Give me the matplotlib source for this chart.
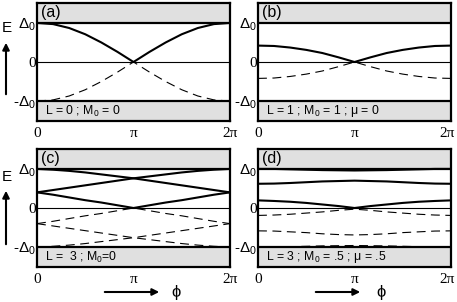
import numpy as np
import matplotlib
matplotlib.use("Agg")
import matplotlib.pyplot as plt

plt.rcParams['font.family'] = ['Liberation Sans', 'DejaVu Sans']
plt.rcParams['mathtext.fontset'] = 'custom'
plt.rcParams['mathtext.rm'] = 'Liberation Sans'
plt.rcParams['mathtext.it'] = 'Liberation Sans:italic'

# ---------------- data ----------------
phi_steps = 13  # samples at phi = k*pi/6, k = 0..12
x_tick_labels = ["0", "π", "2π"]
y_tick_labels = ["-Δ$_0$", "0", "Δ$_0$"]
panel_tags = ["(a)", "(b)", "(c)", "(d)"]
panel_info = ["L = 0 ; M$_0$ = 0",
              "L = 1 ; M$_0$ = 1 ; μ = 0",
              "L =  3 ; M$_0$=0",
              "L = 3 ; M$_0$ = .5 ; μ = .5"]

# (a)
a_solid = [[1.00, 0.97, 0.87, 0.71, 0.50, 0.26, 0.00, 0.26, 0.50, 0.71, 0.87, 0.97, 1.00]]
a_dash = [[-1.00, -0.97, -0.87, -0.71, -0.50, -0.26, 0.00, -0.26, -0.50, -0.71, -0.87, -0.97, -1.00]]
# (b)
b_solid = [[0.42, 0.41, 0.37, 0.31, 0.23, 0.12, 0.00, 0.12, 0.23, 0.31, 0.37, 0.41, 0.42]]
b_dash = [[-0.42, -0.41, -0.37, -0.31, -0.23, -0.12, 0.00, -0.12, -0.23, -0.31, -0.37, -0.41, -0.42]]
# (c)
c_solid = [
    [1.00, 0.98, 0.95, 0.91, 0.86, 0.81, 0.76, 0.70, 0.64, 0.58, 0.52, 0.46, 0.40],
    [0.40, 0.46, 0.52, 0.58, 0.64, 0.70, 0.76, 0.81, 0.86, 0.91, 0.95, 0.98, 1.00],
    [0.40, 0.34, 0.27, 0.20, 0.14, 0.07, 0.00, 0.07, 0.14, 0.20, 0.27, 0.34, 0.40],
]
c_dash = [
    [-1.00, -0.98, -0.95, -0.91, -0.86, -0.81, -0.76, -0.70, -0.64, -0.58, -0.52, -0.46, -0.40],
    [-0.40, -0.46, -0.52, -0.58, -0.64, -0.70, -0.76, -0.81, -0.86, -0.91, -0.95, -0.98, -1.00],
    [-0.40, -0.34, -0.27, -0.20, -0.14, -0.07, 0.00, -0.07, -0.14, -0.20, -0.27, -0.34, -0.40],
]
# (d)
d_solid = [
    [1.00, 1.00, 0.99, 0.98, 0.97, 0.965, 0.96, 0.965, 0.97, 0.98, 0.99, 1.00, 1.00],
    [0.62, 0.625, 0.64, 0.66, 0.68, 0.69, 0.70, 0.69, 0.68, 0.66, 0.64, 0.625, 0.62],
    [0.195, 0.18, 0.16, 0.13, 0.09, 0.05, 0.00, 0.05, 0.09, 0.13, 0.16, 0.18, 0.195],
]
d_dash = [
    [-0.19, -0.18, -0.16, -0.13, -0.10, -0.06, -0.03, -0.06, -0.10, -0.13, -0.16, -0.18, -0.19],
    [-0.585, -0.59, -0.61, -0.63, -0.66, -0.68, -0.69, -0.68, -0.66, -0.63, -0.61, -0.59, -0.585],
    [-1.00, -1.00, -0.99, -0.98, -0.97, -0.965, -0.96, -0.965, -0.97, -0.98, -0.99, -1.00, -1.00],
]

panels = [(a_solid, a_dash), (b_solid, b_dash), (c_solid, c_dash), (d_solid, d_dash)]

# ---------------- figure ----------------
W, H = 457, 302
fig = plt.figure(figsize=(W / 100, H / 100), dpi=100)

def fx(px):
    return px / W

def fy(py):
    return 1 - py / H

boxes = [(37, 3), (258, 3), (37, 149), (258, 149)]
bw, bh = 193, 118
phi = np.linspace(0, 2 * np.pi, phi_steps)
gray = '#e0e0e0'
xticks = [0, np.pi, 2 * np.pi]

for i, ((left, top), (sol, das)) in enumerate(zip(boxes, panels)):
    ax = fig.add_axes([fx(left), fy(top + bh), fx(bw), bh / H])
    ax.set_xlim(0, 2 * np.pi)
    ax.set_ylim(-1.51, 1.51)
    ax.axhspan(1, 2, color=gray, lw=0, zorder=0)
    ax.axhspan(-2, -1, color=gray, lw=0, zorder=0)
    ax.axhline(0, color='k', lw=0.8, zorder=1)
    for s in sol:
        ax.plot(phi, s, color='k', lw=1.5, solid_capstyle='butt', zorder=2)
    for d in das:
        ax.plot(phi, d, color='k', lw=0.8, dashes=(8, 5), zorder=2)
    ax.axhline(1, color='k', lw=1.6, zorder=3)
    ax.axhline(-1, color='k', lw=1.6, zorder=3)
    for sp in ax.spines.values():
        sp.set_linewidth(1.6)
        sp.set_zorder(4)
    right_col = i in (1, 3)
    ax.set_xticks(xticks)
    labels = list(x_tick_labels)
    if right_col:
        labels[2] = ''
        ax.annotate(x_tick_labels[2], xy=(xticks[2], 0),
                    xycoords=('data', 'axes fraction'),
                    xytext=(-3, -4), textcoords='offset points',
                    ha='center', va='top', family='Liberation Serif',
                    fontsize=11, annotation_clip=False)
    ax.set_xticklabels(labels, family='Liberation Serif', fontsize=11)
    ax.set_yticks([-1, 0, 1])
    labs = ax.set_yticklabels(y_tick_labels, fontsize=11)
    labs[1].set_family('Liberation Serif')
    ax.tick_params(axis='both', length=0)
    ax.tick_params(axis='x', pad=4)
    ax.tick_params(axis='y', pad=1)
    ax.text(0.02, 0.92, panel_tags[i], transform=ax.transAxes, fontsize=11.5,
            ha='left', va='center', zorder=5)
    ax.text(0.04, 0.085, panel_info[i], transform=ax.transAxes, fontsize=8.8,
            ha='left', va='center', zorder=5)

# E axis labels with up arrows
for (ey, a0, a1) in [(28, 97, 40), (177, 247, 188)]:
    fig.text(fx(7), fy(ey), 'E', ha='center', va='center', fontsize=11)
    fig.add_artist(matplotlib.patches.FancyArrowPatch(
        (fx(6), fy(a0)), (fx(6), fy(a1)), transform=fig.transFigure,
        arrowstyle='-|>', mutation_scale=10, lw=1.5, color='k'))

# phi arrows
for (x0, x1, xt) in [(102, 162, 176), (313, 363, 381)]:
    fig.add_artist(matplotlib.patches.FancyArrowPatch(
        (fx(x0), fy(292)), (fx(x1), fy(292)), transform=fig.transFigure,
        arrowstyle='-|>', mutation_scale=10, lw=1.5, color='k'))
    fig.text(fx(xt), fy(293), 'ϕ', ha='center', va='center', fontsize=12,
             family=['Liberation Sans', 'DejaVu Sans'])

fig.savefig('out.png', dpi=100)
